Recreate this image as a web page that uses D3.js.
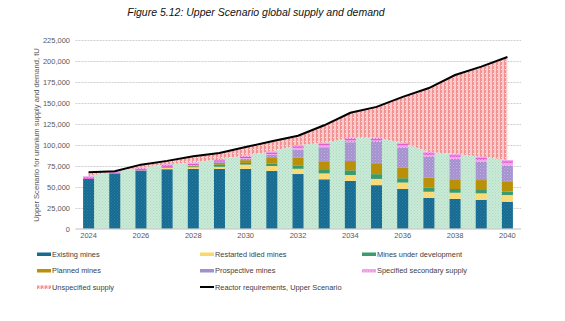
<!DOCTYPE html>
<html><head><meta charset="utf-8">
<script src="https://cdn.jsdelivr.net/npm/d3@7"></script>
<style>
html,body{margin:0;padding:0;background:#fff;}
svg{display:block;font-family:"Liberation Sans",Arial,sans-serif;}
</style></head>
<body><svg id="c" width="565" height="321"></svg>
<script>
const years = [2024,2025,2026,2027,2028,2029,2030,2031,2032,2033,2034,2035,2036,2037,2038,2039,2040];
const xTickLabels = ["2024","2026","2028","2030","2032","2034","2036","2038","2040"];
const yTicks = [0,25000,50000,75000,100000,125000,150000,175000,200000,225000];
const existingMines   = [59500,65900,69500,71000,71300,71300,71300,68900,65300,59000,57000,52000,47400,36700,35500,34300,32200];
const restartedIdled  = [0,0,300,1500,2200,2700,5300,6000,6300,7100,7100,7500,7800,7500,7500,8000,8000];
const underDevelopment= [0,0,0,500,1000,2500,2000,2700,3600,4000,5600,5600,5000,4800,4400,3900,4000];
const plannedMines    = [0,0,0,500,500,2000,3200,6800,9600,10400,11100,13100,12600,11900,11600,11900,11600];
const prospectiveMines= [0,0,0,300,300,1000,1600,3600,9500,16700,22400,25300,23900,25100,24200,21900,19400];
const secondarySupply = [3200,2800,3000,3200,3700,3700,4000,4400,5600,5500,5500,5200,6000,5600,6000,6000,6800];
const reactorReq      = [67500,68500,76500,81000,86500,90500,97500,104500,111000,123500,138500,145500,157500,168000,183500,193500,205000];

const keys = ["existing","restarted","development","planned","prospective","secondary"];
const table = years.map((y,i)=>({year:y, existing:existingMines[i], restarted:restartedIdled[i], development:underDevelopment[i], planned:plannedMines[i], prospective:prospectiveMines[i], secondary:secondarySupply[i], demand:reactorReq[i]}));

const svg = d3.select("#c");
const defs = svg.append("defs");
function dotPattern(id, bg, dot, size){
  const p = defs.append("pattern").attr("id",id).attr("width",size).attr("height",size).attr("patternUnits","userSpaceOnUse");
  p.append("rect").attr("width",size).attr("height",size).attr("fill",bg);
  p.append("rect").attr("x",0).attr("y",0).attr("width",1).attr("height",1).attr("fill",dot);
  p.append("rect").attr("x",size/2).attr("y",size/2).attr("width",1).attr("height",1).attr("fill",dot);
}
dotPattern("pMint","#c9ebd8","#addabf",3);
dotPattern("pYellow","#fcd86c","#f7e4a0",3);
dotPattern("pPink","#f6b3ee","#e070d8",3);
dotPattern("pBlue","#176b92","#2a7ea4",3);
dotPattern("pPurple","#a490cf","#c0b2e0",3);
(function(){
  const p = defs.append("pattern").attr("id","pRed").attr("width",4).attr("height",4).attr("patternUnits","userSpaceOnUse");
  p.append("rect").attr("width",4).attr("height",4).attr("fill","#fbcaca");
  p.append("rect").attr("x",0).attr("width",2).attr("height",4).attr("fill","#f39292");
  p.append("rect").attr("x",1).attr("y",1).attr("width",1).attr("height",1).attr("fill","#fde4e4");
})();
const fills = {existing:"url(#pBlue)", restarted:"url(#pYellow)", development:"#3b9a6e", planned:"#bb9009", prospective:"url(#pPurple)", secondary:"url(#pPink)"};

const x = d3.scaleBand().domain(years).range([75.5,520.5]).paddingInner(0.58).paddingOuter(0.29);
const y = d3.scaleLinear().domain([0,225000]).range([228.7,40.3]);
const cx = d => x(d) + x.bandwidth()/2;

// title
svg.append("text").attr("x",256).attr("y",16).attr("text-anchor","middle")
  .attr("font-size",10.5).attr("font-style","italic").attr("fill","#111")
  .text("Figure 5.12: Upper Scenario global supply and demand");

// gridlines
svg.append("g").selectAll("line").data(yTicks.filter(t=>t>0)).join("line")
  .attr("x1",75.5).attr("x2",521).attr("y1",d=>Math.round(y(d))+0.5).attr("y2",d=>Math.round(y(d))+0.5)
  .attr("stroke","#cfcfcf").attr("stroke-width",1).attr("stroke-dasharray","2,1");

// y axis labels
const yAxis = d3.axisLeft(y).tickValues(yTicks).tickSize(0).tickPadding(0).tickFormat(d3.format(","));
const ga = svg.append("g").attr("transform","translate(70,0)").call(yAxis);
ga.select(".domain").remove();
ga.selectAll("text").attr("font-size",7.5).attr("fill","#595959").attr("font-family","Liberation Sans, Arial, sans-serif");

// y title
svg.append("text").attr("transform","translate(39,135) rotate(-90)").attr("text-anchor","middle")
  .attr("font-size",7.6).attr("fill","#595959")
  .text("Upper  Scenario for uranium supply and demand, tU");

const stack = d3.stack().keys(keys)(table);
const totalTop = stack[stack.length-1];

// green area (specified supply total)
const area = d3.area().x((d,i)=>cx(years[i])).y0(y(0)).y1(d=>y(d[1]));
svg.append("path").datum(totalTop).attr("d",area).attr("fill","url(#pMint)");

// unspecified supply area
const area2 = d3.area().x((d,i)=>cx(table[i].year)).y0((d,i)=>y(totalTop[i][1])).y1(d=>y(d.demand));
svg.append("path").datum(table).attr("d",area2).attr("fill","url(#pRed)");

// bars
svg.append("g").selectAll("g").data(stack).join("g").attr("fill",s=>fills[s.key])
  .selectAll("rect").data(s=>s).join("rect")
  .attr("x",(d,i)=>x(years[i])).attr("width",x.bandwidth())
  .attr("y",d=>y(d[1])).attr("height",d=>Math.max(0,y(d[0])-y(d[1])));
// secondary top accent
svg.append("g").selectAll("rect").data(totalTop).join("rect")
  .attr("x",(d,i)=>x(years[i])).attr("width",x.bandwidth())
  .attr("y",d=>y(d[1])+1.5).attr("height",1).attr("fill","#e24fd0");

// baseline
svg.append("line").attr("x1",75.5).attr("x2",521).attr("y1",229).attr("y2",229).attr("stroke","#bfbfbf");

// demand line
svg.append("path").datum(table).attr("d",d3.line().x(d=>cx(d.year)).y(d=>y(d.demand)))
  .attr("fill","none").attr("stroke","#000").attr("stroke-width",2);

// x axis
const xAxis = d3.axisBottom(x).tickValues(years.filter(yv=>xTickLabels.includes(String(yv)))).tickSize(0).tickPadding(4);
const gx = svg.append("g").attr("transform","translate(0,229)").call(xAxis);
gx.select(".domain").remove();
gx.selectAll("text").attr("font-size",7.5).attr("fill","#595959").attr("font-family","Liberation Sans, Arial, sans-serif");

// legend
const legendItems = [
  {label:"Existing mines", fill:"#176b92"},
  {label:"Restarted idled mines", fill:"#fcd86c"},
  {label:"Mines under development", fill:"#3b9a6e"},
  {label:"Planned mines", fill:"#bb9009"},
  {label:"Prospective mines", fill:"#a490cf"},
  {label:"Specified secondary supply", fill:"url(#pPink)"},
  {label:"Unspecified supply", fill:"url(#pRed)"},
  {label:"Reactor requirements, Upper Scenario", line:true}
];
const colX = [37,200,362], rowY = [254,270.5,287];
const lg = svg.append("g").selectAll("g").data(legendItems).join("g")
  .attr("transform",(d,i)=>`translate(${colX[i%3]},${rowY[Math.floor(i/3)]})`);
lg.each(function(d){
  const g = d3.select(this);
  if(d.line) g.append("line").attr("x1",0).attr("x2",14).attr("y1",0).attr("y2",0).attr("stroke","#000").attr("stroke-width",2);
  else g.append("rect").attr("x",0).attr("y",-1.5).attr("width",14).attr("height",3.5).attr("fill",d.fill);
  g.append("text").attr("x",15).attr("y",2.7).attr("font-size",7.4).attr("fill","#404040").text(d.label);
});
</script>
</body></html>
